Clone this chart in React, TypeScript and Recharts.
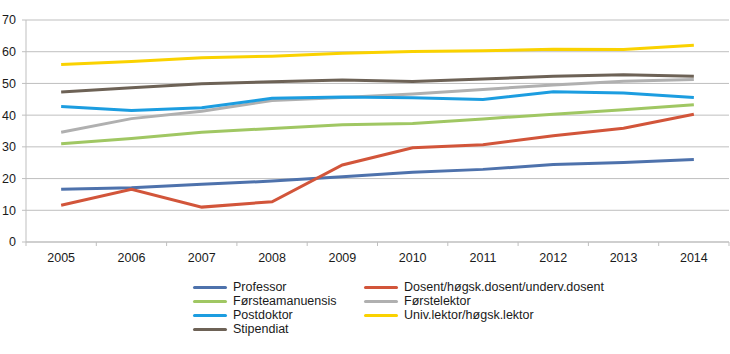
import React from "react";
import { LineChart, Line, XAxis, YAxis, CartesianGrid } from "recharts";

const years = [2005, 2006, 2007, 2008, 2009, 2010, 2011, 2012, 2013, 2014];
const professor = [16.6, 17.1, 18.2, 19.2, 20.6, 22.0, 22.9, 24.4, 25.1, 26.0];
const dosent = [11.6, 16.6, 11.0, 12.7, 24.3, 29.7, 30.7, 33.5, 35.9, 40.3];
const forsteamanuensis = [31.0, 32.6, 34.6, 35.8, 37.0, 37.4, 38.8, 40.3, 41.7, 43.3];
const forstelektor = [34.6, 38.9, 41.2, 44.6, 45.6, 46.7, 48.1, 49.5, 50.7, 51.2];
const postdoktor = [42.7, 41.5, 42.3, 45.3, 45.7, 45.5, 44.9, 47.4, 47.0, 45.6];
const univlektor = [56.0, 56.9, 58.1, 58.6, 59.5, 60.1, 60.3, 60.8, 60.7, 62.0];
const stipendiat = [47.3, 48.6, 49.9, 50.5, 51.1, 50.6, 51.4, 52.3, 52.7, 52.3];
const yTicks = [0, 10, 20, 30, 40, 50, 60, 70];

const series = [
  { key: "professor", name: "Professor", values: professor, color: "#4E72AC" },
  { key: "dosent", name: "Dosent/høgsk.dosent/underv.dosent", values: dosent, color: "#D2553A" },
  { key: "forsteamanuensis", name: "Førsteamanuensis", values: forsteamanuensis, color: "#A0C763" },
  { key: "forstelektor", name: "Førstelektor", values: forstelektor, color: "#B0B0B0" },
  { key: "postdoktor", name: "Postdoktor", values: postdoktor, color: "#1C9DE0" },
  { key: "univlektor", name: "Univ.lektor/høgsk.lektor", values: univlektor, color: "#FAD200" },
  { key: "stipendiat", name: "Stipendiat", values: stipendiat, color: "#6D6256" },
];

const data = years.map((y, i) => {
  const row: Record<string, number> = { year: y };
  series.forEach((s) => (row[s.key] = s.values[i]));
  return row;
});

const xTicks: number[] = [];
for (let i = 0; i <= years.length; i++) {
  xTicks.push(years[0] - 0.5 + i);
  if (i < years.length) xTicks.push(years[i]);
}

const FONT = "'Liberation Sans', Arial, sans-serif";
const GRID = "#BFBFBF";
const FS = 12.5;

const XTick = (props: any) => {
  const { x, y, payload } = props;
  const v = payload.value;
  if (Math.abs(v % 1) > 0.01) {
    return <line x1={x} x2={x} y1={y} y2={y + 4} stroke={GRID} strokeWidth={1} />;
  }
  return (
    <text x={x} y={y + 20} textAnchor="middle" fontSize={FS} fontFamily={FONT} fill="#1a1a1a">
      {v}
    </text>
  );
};

export default function App() {
  return (
    <div style={{ position: "absolute", left: 0, top: 0, width: 730, height: 354, background: "#fff" }}>
      <LineChart width={730} height={354} data={data} margin={{ top: 20, right: 1, left: 0, bottom: 82 }}>
        <CartesianGrid vertical={false} stroke={GRID} />
        <XAxis
          dataKey="year"
          type="number"
          domain={[2004.5, 2014.5]}
          ticks={xTicks}
          interval={0}
          tickLine={false}
          tickSize={0}
          tickMargin={0}
          height={30}
          axisLine={{ stroke: GRID }}
          tick={<XTick />}
        />
        <YAxis
          domain={[0, 70]}
          ticks={yTicks}
          width={26}
          tickSize={4}
          tickMargin={6}
          axisLine={{ stroke: GRID }}
          tickLine={{ stroke: GRID }}
          tick={{ fontSize: FS, fontFamily: FONT, fill: "#1a1a1a" }}
        />
        {series.map((s) => (
          <Line
            key={s.key}
            type="linear"
            dataKey={s.key}
            name={s.name}
            stroke={s.color}
            strokeWidth={3}
            dot={false}
            isAnimationActive={false}
          />
        ))}
      </LineChart>
      {series.map((s, i) => {
        const col = i % 2;
        const row = Math.floor(i / 2);
        return (
          <div
            key={s.key}
            style={{
              position: "absolute",
              left: 193 + col * 171,
              top: 280 + row * 14,
              height: 14,
              display: "flex",
              alignItems: "center",
              fontFamily: FONT,
              fontSize: FS,
              color: "#1a1a1a",
              whiteSpace: "nowrap",
            }}
          >
            <span style={{ display: "inline-block", width: 34, height: 3, background: s.color, borderRadius: 1.5, marginRight: 6 }} />
            <span>{s.name}</span>
          </div>
        );
      })}
    </div>
  );
}
